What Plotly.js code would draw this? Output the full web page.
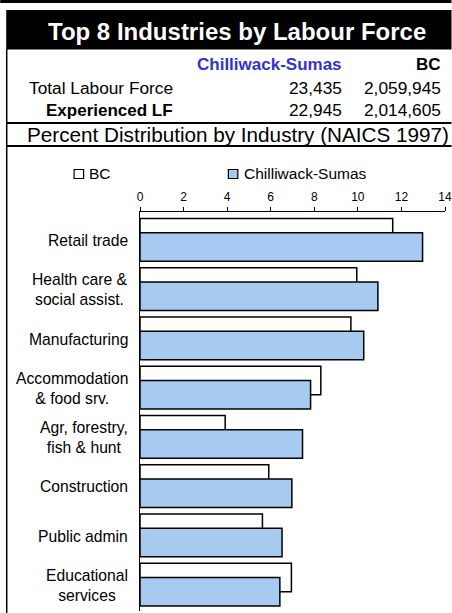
<!DOCTYPE html>
<html>
<head>
<meta charset="utf-8">
<script src="https://cdn.plot.ly/plotly-3.0.1.min.js"></script>
<style>
  html, body { margin: 0; padding: 0; background: #ffffff; }
  #chart { width: 452px; height: 613px; }
</style>
</head>
<body>
<div id="chart"></div>
<script>
// ---- Data ----
const categories = [
  "Retail trade",
  "Health care &<br>social assist.",
  "Manufacturing",
  "Accommodation<br>& food srv.",
  "Agr, forestry,<br>fish & hunt",
  "Construction",
  "Public admin",
  "Educational<br>services"
];
const bcValues = [11.6, 9.95, 9.68, 8.3, 3.91, 5.91, 5.62, 6.95];
const chilliwackValues = [12.97, 10.92, 10.27, 7.83, 7.46, 6.97, 6.52, 6.42];
const seriesNames = ["BC", "Chilliwack-Sumas"];
const regionHeaders = ["Chilliwack-Sumas", "BC"];
const totalLabourForce = ["23,435", "2,059,945"];
const experiencedLF = ["22,945", "2,014,605"];
const xTickValues = [0, 2, 4, 6, 8, 10, 12, 14];

const chartTitle = "Top 8 Industries by Labour Force";
const subTitle = "Percent Distribution by Industry (NAICS 1997)";

// ---- Layout helpers (pixel -> paper) ----
const W = 452, H = 613;
const M = { l: 140, r: 6.5, t: 212, b: 2 };
const PW = W - M.l - M.r, PH = H - M.t - M.b;
const px = x => (x - M.l) / PW;
const py = y => (H - M.b - y) / PH;

const FONT = "Arial, 'Liberation Sans', sans-serif";
const BLUE_FILL = "#A6CAF0";
const HEADER_BLUE = "#3333CC";

const traces = [
  {
    type: "bar", orientation: "h", name: seriesNames[0],
    y: categories, x: bcValues,
    width: 0.58, offset: -0.45,
    marker: { color: "#ffffff", line: { color: "#000000", width: 1.5 } },
    hoverinfo: "skip", showlegend: false
  },
  {
    type: "bar", orientation: "h", name: seriesNames[1],
    y: categories, x: chilliwackValues,
    width: 0.58, offset: -0.16,
    marker: { color: BLUE_FILL, line: { color: "#000000", width: 1.5 } },
    hoverinfo: "skip", showlegend: false
  }
];

const shapes = [
  // top band
  { type: "rect", xref: "paper", yref: "paper", x0: px(0), x1: px(452), y0: py(0), y1: py(3), fillcolor: "#000", line: { width: 0 } },
  // title box
  { type: "rect", xref: "paper", yref: "paper", x0: px(6), x1: px(452), y0: py(10), y1: py(49.5), fillcolor: "#000", line: { width: 0 } },
  // left border
  { type: "line", xref: "paper", yref: "paper", x0: px(6.5), x1: px(6.5), y0: py(49), y1: py(613), line: { color: "#000", width: 1.5 } },
  // horizontal separators
  { type: "line", xref: "paper", yref: "paper", x0: px(6), x1: px(452), y0: py(123), y1: py(123), line: { color: "#000", width: 2 } },
  { type: "line", xref: "paper", yref: "paper", x0: px(6), x1: px(452), y0: py(146), y1: py(146), line: { color: "#000", width: 2 } },
  // legend squares
  { type: "rect", xref: "paper", yref: "paper", x0: px(74), x1: px(83.5), y0: py(169.5), y1: py(178.5), fillcolor: "#ffffff", line: { color: "#000", width: 1.2 } },
  { type: "rect", xref: "paper", yref: "paper", x0: px(228.5), x1: px(238), y0: py(169.5), y1: py(178.5), fillcolor: BLUE_FILL, line: { color: "#000", width: 1.2 } }
];

function txt(text, x, y, anchor, size, opts) {
  return Object.assign({
    text: text, xref: "paper", yref: "paper", x: px(x), y: py(y),
    xanchor: anchor, yanchor: "middle", showarrow: false,
    font: { family: FONT, size: size, color: "#000" }
  }, opts || {});
}

const annotations = [
  txt("<b>" + chartTitle + "</b>", 237.5, 31.5, "center", 24, { font: { family: FONT, size: 24, color: "#ffffff" } }),
  txt("<b>" + regionHeaders[0] + "</b>", 344, 64, "right", 17, { font: { family: FONT, size: 17, color: HEADER_BLUE } }),
  txt("<b>" + regionHeaders[1] + "</b>", 443.5, 64, "right", 17),
  txt("Total Labour Force", 27, 87.7, "left", 17.3),
  txt(totalLabourForce[0], 344, 87.7, "right", 17.3),
  txt(totalLabourForce[1], 443.5, 87.7, "right", 17.3),
  txt("<b>Experienced LF</b>", 44, 110.3, "left", 17),
  txt(experiencedLF[0], 344, 110.3, "right", 17.3),
  txt(experiencedLF[1], 443.5, 110.3, "right", 17.3),
  txt(subTitle, 24.5, 134.5, "left", 20.7),
  // legend labels
  txt(seriesNames[0], 86.5, 174, "left", 15.5),
  txt(seriesNames[1], 242, 174, "left", 15.5)
];

// category labels (centered multi-line, right edge near axis)
categories.forEach(c => {
  annotations.push({
    text: c, xref: "paper", yref: "y", x: px(129.5), y: c,
    xanchor: "right", yanchor: "middle", align: "center", showarrow: false,
    font: { family: FONT, size: 15.7, color: "#000" }
  });
});

const layout = {
  width: W, height: H,
  margin: M,
  paper_bgcolor: "#ffffff", plot_bgcolor: "#ffffff",
  barmode: "overlay",
  showlegend: false,
  font: { family: FONT, color: "#000" },
  xaxis: {
    side: "top", range: [0, 14], tickvals: xTickValues,
    ticks: "outside", ticklen: 4, tickcolor: "#000", tickwidth: 1,
    showline: true, linecolor: "#000", linewidth: 1,
    showgrid: false, zeroline: false,
    tickfont: { family: FONT, size: 12, color: "#000" },
    ticklabelstandoff: 1, fixedrange: true
  },
  yaxis: {
    type: "category", autorange: false, range: [7.52, -0.58],
    showline: true, linecolor: "#000", linewidth: 1,
    ticks: "", showticklabels: false, showgrid: false, zeroline: false,
    fixedrange: true
  },
  shapes: shapes,
  annotations: annotations
};

Plotly.newPlot("chart", traces, layout, { displayModeBar: false, staticPlot: true });
</script>
</body>
</html>
